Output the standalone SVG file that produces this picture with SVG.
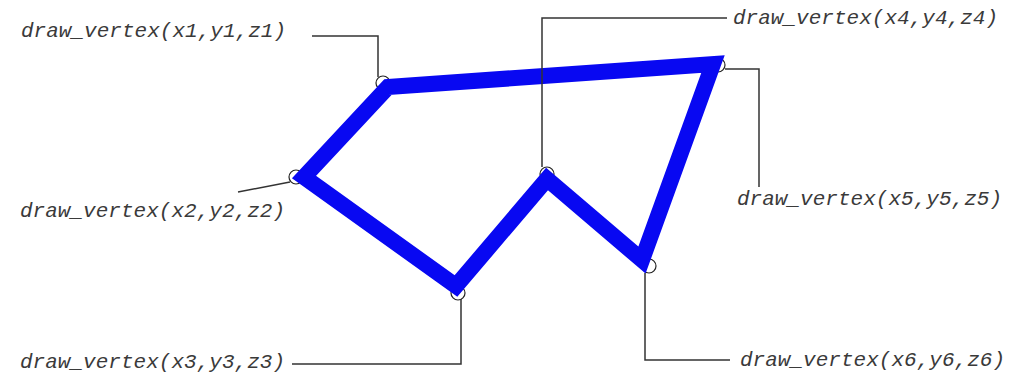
<svg xmlns="http://www.w3.org/2000/svg" width="1010" height="391" viewBox="0 0 1010 391">
<style>
.lbl{font-family:"Liberation Mono","Courier New",monospace;font-style:italic;font-size:21px;fill:#3a3a3a}
.lead{fill:none;stroke:#333;stroke-width:1.5}
.vc{fill:none;stroke:#222;stroke-width:1.2}
.shape{fill:none;stroke:#0808f2;stroke-width:16;stroke-linejoin:miter}
</style>
<rect width="1010" height="391" fill="#ffffff"/>
<g id="vertices">
<circle class="vc" cx="383" cy="83" r="7"/>
<circle class="vc" cx="296" cy="177" r="7"/>
<circle class="vc" cx="458" cy="293" r="7"/>
<circle class="vc" cx="718" cy="65" r="7"/>
<circle class="vc" cx="547" cy="174" r="7"/>
<circle class="vc" cx="649" cy="266" r="7"/>
</g>
<g id="shape">
<polygon class="shape" points="388,87 713,64 642,260 547,179 456,286 304,177"/>
</g>
<g id="connectors">
<polyline class="lead" points="312,36 378,36 378,77"/>
<polyline class="lead" points="238,192 290,182"/>
<polyline class="lead" points="292,364 461,364 461,299"/>
<polyline class="lead" points="542,167 542,18 727,18"/>
<polyline class="lead" points="725,69 759,69 759,187"/>
<polyline class="lead" points="645,273 645,360 730,360"/>
</g>
<g id="label1"><text class="lbl" x="21" y="37" textLength="265" lengthAdjust="spacing">draw_vertex(x1,y1,z1)</text></g>
<g id="label2"><text class="lbl" x="20" y="217" textLength="265" lengthAdjust="spacing">draw_vertex(x2,y2,z2)</text></g>
<g id="label3"><text class="lbl" x="20" y="368" textLength="265" lengthAdjust="spacing">draw_vertex(x3,y3,z3)</text></g>
<g id="label4"><text class="lbl" x="733" y="24" textLength="265" lengthAdjust="spacing">draw_vertex(x4,y4,z4)</text></g>
<g id="label5"><text class="lbl" x="737" y="205" textLength="265" lengthAdjust="spacing">draw_vertex(x5,y5,z5)</text></g>
<g id="label6"><text class="lbl" x="740" y="366" textLength="265" lengthAdjust="spacing">draw_vertex(x6,y6,z6)</text></g>
</svg>
